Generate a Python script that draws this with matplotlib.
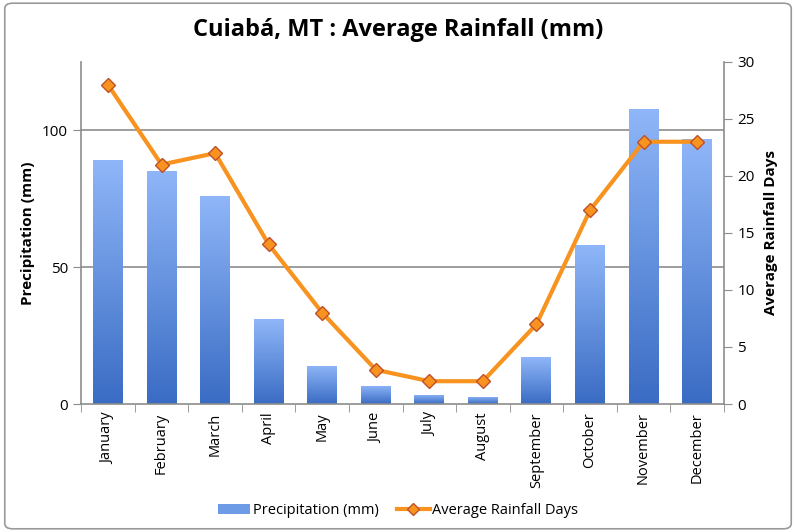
import numpy as np
import matplotlib
matplotlib.use("Agg")
import matplotlib.pyplot as plt
from matplotlib.patches import FancyBboxPatch
from matplotlib.lines import Line2D
from matplotlib.patches import Patch
from matplotlib.colors import LinearSegmentedColormap

plt.rcParams['font.family'] = ['Open Sans', 'DejaVu Sans']

# data
months = ['January', 'February', 'March', 'April', 'May', 'June',
          'July', 'August', 'September', 'October', 'November', 'December']
precip = [89, 85.3, 76, 31, 14, 6.6, 3.3, 2.6, 17, 58, 107.7, 96.7]
rain_days = [28, 21, 22, 14, 8, 3, 2, 2, 7, 17, 23, 23]

fig = plt.figure(figsize=(7.96, 5.32), dpi=100)
ax = fig.add_axes([0.102, 0.2406, 0.8075, 0.643])
ax2 = ax.twinx()

x = np.arange(len(months))
width = 0.56
grad = LinearSegmentedColormap.from_list('bluegrad', ['#3a6cc4', '#8fb6f8'])
bars = ax.bar(x, precip, width, color='none', edgecolor='none', zorder=2)
for b in bars:
    x0, y0 = b.get_x(), b.get_y()
    w, h = b.get_width(), b.get_height()
    im = ax.imshow(np.linspace(0, 1, 256).reshape(-1, 1), cmap=grad, origin='lower',
                   extent=[x0, x0 + w, y0, y0 + h], aspect='auto', zorder=2)
    im.set_clip_path(b)

ax.set_xlim(-0.5, len(months) - 0.5)
ax.set_ylim(0, 125)
ax.set_yticks([0, 50, 100])
for v in [50, 100]:
    ax.axhline(v, color='#8c8c8c', lw=1.2, zorder=1)

ax.set_xticks(x)
ax.set_xticklabels(months, rotation=90, fontsize=10.5)
ax.set_xticks(np.arange(-0.5, len(months), 1), minor=True)
ax.tick_params(axis='x', which='major', length=0, pad=6)
ax.tick_params(axis='x', which='minor', length=6, color='#8c8c8c', direction='out')
ax.tick_params(axis='y', labelsize=11, length=6, color='#8c8c8c', direction='out')

ax2.plot(x, rain_days, color='#f7931e', lw=3, marker='D', markersize=7,
         markerfacecolor='#f7931e', markeredgecolor='#c0502a', markeredgewidth=1, zorder=3)
ax2.set_ylim(0, 30)
ax2.set_yticks(range(0, 31, 5))
ax2.tick_params(axis='y', labelsize=11, length=6, color='#8c8c8c', direction='out')

for a in (ax, ax2):
    a.spines['top'].set_visible(False)
    for s in ('left', 'right', 'bottom'):
        a.spines[s].set_color('#8c8c8c')
        a.spines[s].set_linewidth(1.2)
ax.spines['right'].set_visible(False)
ax2.spines['left'].set_visible(False)
ax2.spines['bottom'].set_visible(False)

ax.set_ylabel('Precipitation (mm)', fontsize=11, fontweight='bold', labelpad=5)
ax2.set_ylabel('Average Rainfall Days', fontsize=11, fontweight='bold', labelpad=7)

fig.text(0.5, 0.943, 'Cuiabá, MT : Average Rainfall (mm)', ha='center', va='center',
         fontsize=17, fontweight='bold')

handles = [Patch(facecolor='#6d9be6', edgecolor='none'),
           Line2D([], [], color='#f7931e', lw=3, marker='D', markersize=6,
                  markerfacecolor='#f7931e', markeredgecolor='#c0502a')]
fig.legend(handles, ['Precipitation (mm)', 'Average Rainfall Days'], loc='center',
           bbox_to_anchor=(0.5, 0.04), ncol=2, frameon=False, fontsize=10.5,
           handlelength=2.2, columnspacing=1.3, handletextpad=0.2)

border = FancyBboxPatch((0.006, 0.006), 0.988, 0.988, boxstyle='round,pad=0,rounding_size=0.01',
                        transform=fig.transFigure, fill=False, edgecolor='#9a9a9a', lw=1.2)
fig.patches.append(border)

fig.savefig('out.png', dpi=100)
